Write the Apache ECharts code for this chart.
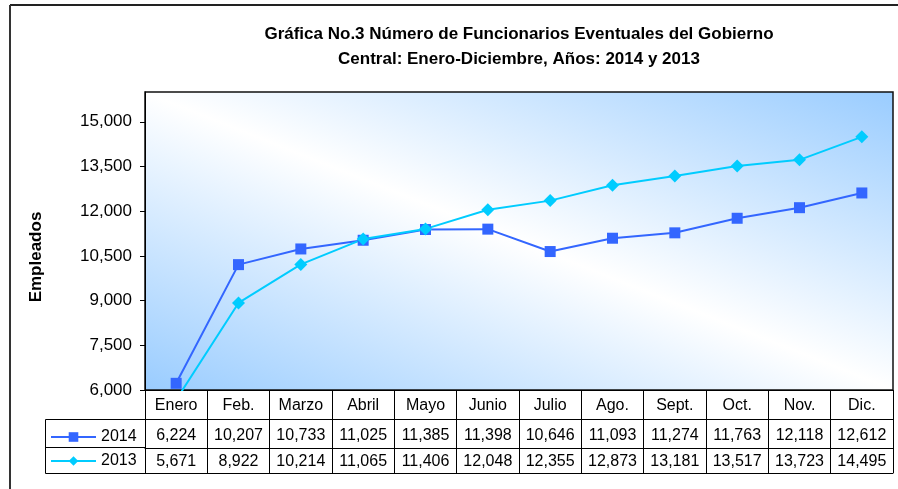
<!DOCTYPE html>
<html>
<head>
<meta charset="utf-8">
<script src="https://cdn.jsdelivr.net/npm/echarts@6/dist/echarts.min.js"></script>
<style>
  html, body { margin: 0; padding: 0; background: #fff; }
  #chart { width: 898px; height: 489px; }
</style>
</head>
<body>
<div id="chart"></div>
<script>
  const months = ["Enero", "Feb.", "Marzo", "Abril", "Mayo", "Junio", "Julio", "Ago.", "Sept.", "Oct.", "Nov.", "Dic."]
  const data2014 = [6224, 10207, 10733, 11025, 11385, 11398, 10646, 11093, 11274, 11763, 12118, 12612]
  const data2013 = [5671, 8922, 10214, 11065, 11406, 12048, 12355, 12873, 13181, 13517, 13723, 14495]
  const yTicks = [6000, 7500, 9000, 10500, 12000, 13500, 15000]

  const FONT = "'Liberation Sans', Arial, sans-serif"
  const fmt = (v) => Number(v).toLocaleString("en-US")

  // one category axis per table row, stacked under the grid
  function tableAxis(offset, tickLen, margin, formatter, showLabel) {
    return {
      type: "category",
      data: months,
      position: "bottom",
      offset: offset,
      boundaryGap: true,
      axisLine: { show: true, lineStyle: { color: "#000", width: 1 } },
      axisTick: { show: tickLen > 0, interval: 0, length: tickLen, lineStyle: { color: "#000", width: 1 } },
      axisLabel: {
        show: showLabel,
        interval: 0,
        hideOverlap: false,
        margin: margin,
        color: "#000",
        fontSize: 16,
        fontFamily: FONT,
        formatter: formatter,
      },
      splitLine: { show: false },
    }
  }

  const chart = echarts.init(document.getElementById("chart"))
  const option = {
    backgroundColor: "#fff",
    animation: false,
    title: {
      text: "Gráfica No.3 Número de Funcionarios Eventuales del Gobierno\nCentral: Enero-Diciembre, Años: 2014 y 2013",
      left: 514,
      top: 17,
      textAlign: "center",
      textStyle: {
        fontFamily: FONT,
        fontWeight: "bold",
        fontSize: 17,
        lineHeight: 25,
        color: "#000",
      },
    },
    legend: {
      orient: "vertical",
      left: 45,
      top: 424,
      itemGap: 8,
      itemWidth: 45,
      itemHeight: 12,
      textStyle: { fontFamily: FONT, fontSize: 16, color: "#000" },
      data: ["2014", "2013"],
    },
    grid: {
      left: 145,
      right: 5,
      top: 92,
      bottom: 99,
      show: true,
      borderColor: "#111",
      borderWidth: 1.5,
      backgroundColor: new echarts.graphic.LinearGradient(0.363, 1.363, 0.637, -0.363, [
        { offset: 0, color: "#99ccff" },
        { offset: 0.5, color: "#ffffff" },
        { offset: 1, color: "#99ccff" },
      ]),
    },
    xAxis: [
      tableAxis(0, 29, 8, (v) => v, true),
      tableAxis(29, 29, 9, (v, i) => fmt(data2014[i]), true),
      tableAxis(58, 25, 6, (v, i) => fmt(data2013[i]), true),
      tableAxis(83, 0, 0, (v) => "", false),
    ],
    yAxis: {
      type: "value",
      min: yTicks[0],
      max: 16000,
      interval: 1500,
      axisLine: { show: true, lineStyle: { color: "#000", width: 1 } },
      axisTick: { show: true, length: 5, lineStyle: { color: "#000" } },
      axisLabel: {
        margin: 13,
        showMaxLabel: false,
        color: "#000",
        fontSize: 17,
        fontFamily: FONT,
        formatter: (v) => fmt(v),
      },
      splitLine: { show: false },
    },
    graphic: [
      // outer frame
      { type: "line", shape: { x1: 10, y1: 5, x2: 898, y2: 5 }, style: { stroke: "#222", lineWidth: 2 } },
      { type: "line", shape: { x1: 10, y1: 5, x2: 10, y2: 489 }, style: { stroke: "#333", lineWidth: 2 } },
      // legend cells of the data table
      { type: "rect", shape: { x: 45.5, y: 419.5, width: 100, height: 54 }, style: { fill: "none", stroke: "#000", lineWidth: 1 } },
      { type: "line", shape: { x1: 45.5, y1: 447.5, x2: 145.5, y2: 447.5 }, style: { stroke: "#000", lineWidth: 1 } },
      {
        type: "text",
        x: 36,
        y: 257,
        rotation: Math.PI / 2,
        style: {
          text: "Empleados",
          fill: "#000",
          font: "bold 17px " + FONT,
          align: "center",
          verticalAlign: "middle",
        },
      },
    ],
    series: [
      {
        name: "2014",
        type: "line",
        data: data2014,
        symbol: "rect",
        symbolSize: 11,
        clip: true,
        lineStyle: { color: "#3366ff", width: 2 },
        itemStyle: { color: "#3366ff" },
      },
      {
        name: "2013",
        type: "line",
        data: data2013,
        symbol: "diamond",
        symbolSize: 13,
        clip: true,
        lineStyle: { color: "#00ccff", width: 2 },
        itemStyle: { color: "#00ccff" },
      },
    ],
  }
  chart.setOption(option)
</script>
</body>
</html>
